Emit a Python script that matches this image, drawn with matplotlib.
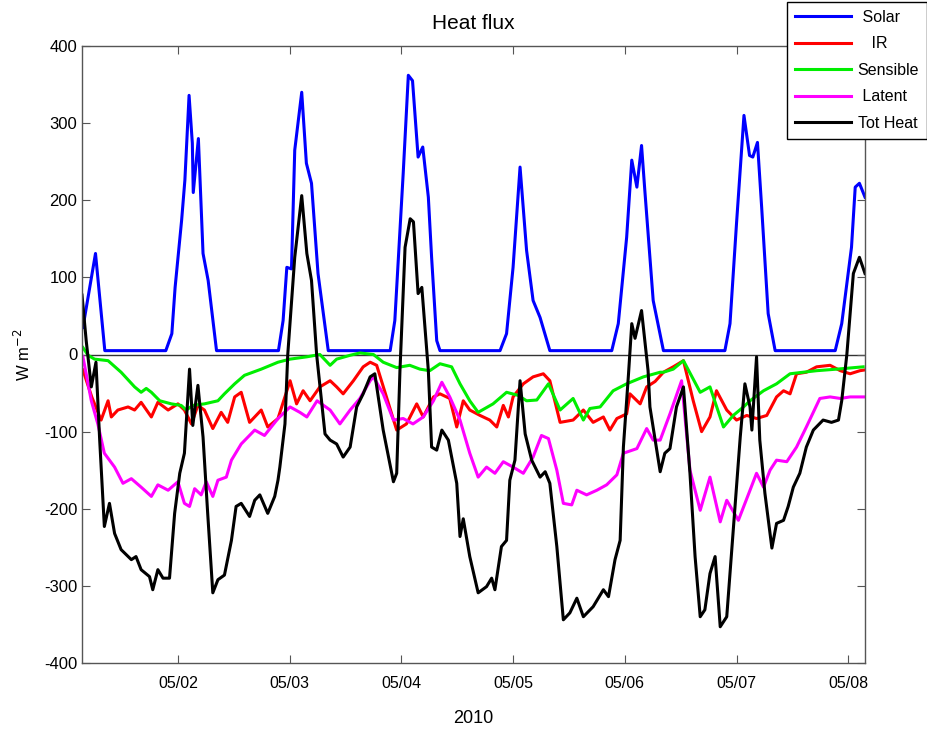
import matplotlib
matplotlib.use("Agg")
import matplotlib.pyplot as plt

plt.rcParams['font.family'] = ['Liberation Sans', 'DejaVu Sans']
plt.rcParams['axes.unicode_minus'] = False

# time in hours since 2010-05-01 00:00
solar_t = [3.6, 6.3, 8.3, 21.4, 22.7, 23.4, 24.8, 25.5, 26.4, 27.1, 27.3, 28.4, 29.4, 30.5, 32.3,
           45.6, 46.6, 47.4, 48.4, 49.1, 50.6, 51.6, 52.7, 54.1, 56.3,
           69.6, 70.6, 72.4, 73.5, 74.4, 75.6, 76.6, 77.8, 78.5, 79.6, 80.3,
           93.2, 94.6, 96.0, 97.5, 98.9, 100.3, 101.8, 103.9,
           117.2, 118.6, 120.4, 121.5, 122.6, 123.6, 124.3, 126.1, 128.3,
           141.5, 142.6, 144.0, 145.6, 146.8, 147.5, 148.5, 149.4, 150.8, 152.3,
           165.2, 166.6, 168.7, 169.5, 170.4, 171.6]
solar_v = [35, 131, 5, 5, 27, 87, 174, 226, 336, 274, 210, 280, 131, 96, 5,
           5, 44, 113, 111, 265, 340, 248, 222, 105, 5,
           5, 44, 235, 362, 355, 256, 269, 204, 126, 18, 5,
           5, 27, 113, 243, 135, 70, 48, 5,
           5, 40, 152, 252, 217, 271, 213, 70, 5,
           5, 40, 170, 310, 258, 256, 275, 191, 53, 5,
           5, 40, 139, 217, 222, 204]

ir_t = [3.6, 5.5, 7.5, 9.0, 9.7, 11.1, 13.3, 14.7, 16.1, 18.3, 19.7, 21.9, 24.0, 25.4, 26.9, 28.3,
        29.7, 31.5, 33.3, 34.7, 36.2, 37.6, 39.4, 41.9, 43.3, 45.5,
        48.1, 49.5, 50.9, 52.4, 54.5, 56.7, 58.1, 59.5, 61.7, 63.8, 65.3, 66.7, 68.8, 71.0,
        73.1, 75.3, 76.7, 78.9, 80.3, 82.4, 83.9, 85.3,
        86.7, 88.9, 91.0, 92.5, 93.9, 95.0, 96.0, 98.2, 100.3, 102.5, 103.9, 106.1, 108.9,
        111.1, 113.2, 115.4, 116.8, 118.3, 120.4, 121.1, 123.3, 124.7, 126.5,
        128.3, 130.4, 132.6, 134.7, 136.5, 138.3, 139.7, 141.9, 144.0, 146.2, 148.3, 150.5,
        152.6, 154.1, 155.5, 156.9, 159.0, 161.2, 164.1, 166.3, 168.4, 170.5, 171.6]
ir_v = [-20, -55, -85, -60, -81, -72, -68, -72, -62, -81, -62, -72, -64, -72, -90, -66,
        -72, -96, -75, -88, -55, -49, -88, -72, -94, -83,
        -34, -64, -47, -60, -42, -34, -42, -51, -34, -16, -10, -14, -55, -98,
        -90, -64, -81, -55, -51, -57, -94, -60,
        -72, -79, -85, -94, -66, -81, -55, -38, -29, -25, -34, -88, -85,
        -72, -88, -81, -98, -83, -77, -51, -64, -42, -35,
        -23, -16, -8, -60, -100, -81, -47, -72, -85, -79, -83, -79,
        -55, -47, -51, -25, -23, -16, -14, -21, -25, -21, -20]

sens_t = [3.6, 4.7, 6.1, 9.0, 11.8, 14.7, 16.1, 17.2, 18.3, 20.1, 22.6, 24.7, 25.8, 27.2, 29.7,
          32.6, 34.0, 36.2, 38.3, 41.9, 45.5,
          48.1, 51.7, 54.5, 56.7, 58.1, 61.0, 63.1, 66.0, 68.1, 71.0, 73.8, 76.0, 78.1, 80.3,
          82.8, 84.6, 86.7,
          88.5, 91.7, 94.6, 97.1, 98.9, 101.1, 103.6, 106.1, 108.9, 111.1, 112.5, 114.7, 117.5,
          120.4, 124.0, 127.6,
          128.3, 130.4, 132.6, 136.2, 138.3, 141.2, 143.3, 145.5, 146.9, 149.8, 152.6, 155.5,
          158.3, 161.2, 165.5, 171.2]
sens_v = [9, -1, -6, -8, -23, -42, -49, -44, -49, -60, -64, -66, -72, -66, -64,
          -60, -51, -38, -27, -19, -10,
          -6, -3, 0, -14, -6, -1, 2, 0, -10, -17, -14, -19, -21, -12,
          -16, -38, -60,
          -75, -64, -49, -53, -60, -59, -38, -72, -57, -85, -70, -68, -47,
          -38, -29, -23,
          -23, -19, -8, -49, -42, -94, -79, -68, -60, -47, -38, -25,
          -23, -21, -19, -16]

lat_t = [3.6, 5.4, 6.8, 8.2, 10.4, 12.2, 14.0, 16.1, 18.3, 19.7, 21.9, 24.0, 25.4, 26.5, 27.6,
         29.0, 30.1, 31.5, 32.6, 34.4, 35.5, 37.6, 40.5, 42.6, 45.5,
         48.1, 50.2, 51.7, 53.9, 56.7, 58.8, 61.0, 63.1, 65.3, 66.0, 68.1, 70.3, 72.4, 74.5,
         76.7, 78.9, 80.7, 82.4, 84.6, 86.7,
         88.5, 90.3, 92.1, 93.9, 96.0, 98.2, 100.3, 102.1, 103.6, 105.4, 106.8, 108.6, 109.7,
         111.8, 114.0, 116.1, 118.3, 119.7, 122.6, 124.7, 126.1, 127.6,
         129.7, 132.2, 134.0, 136.2, 138.3, 140.5, 141.9, 144.4, 146.9, 148.3, 149.8, 151.2,
         152.6, 154.8, 156.9, 159.0, 161.9, 164.1, 166.3, 168.4, 171.6]
lat_v = [-3, -60, -90, -128, -146, -167, -161, -172, -184, -169, -176, -165, -193, -197, -174,
         -182, -165, -184, -163, -159, -137, -116, -98, -105, -83,
         -68, -75, -81, -60, -72, -90, -72, -57, -34, -29, -51, -85, -83, -90,
         -81, -60, -36, -55, -85, -128,
         -159, -146, -154, -139, -146, -154, -133, -105, -109, -150, -193, -195, -176,
         -182, -176, -169, -156, -128, -122, -96, -111, -111,
         -77, -34, -150, -202, -159, -217, -189, -215, -176, -154, -172, -150,
         -137, -139, -120, -94, -57, -55, -57, -55, -55]

tot_t = [3.4, 4.3, 5.4, 6.4, 7.2, 8.2, 9.3, 10.4, 11.8, 14.0, 15.0, 16.1, 17.9, 18.6, 19.7,
         20.8, 22.2, 23.3, 24.4, 25.4, 26.5, 27.2, 28.3, 29.4, 30.4, 31.5, 32.6, 34.0, 35.5,
         36.5, 37.6, 39.4, 40.5, 41.6, 43.3, 44.8, 45.5, 45.9, 47.0,
         47.6, 49.1, 50.6, 51.7, 52.7, 53.8, 55.6, 56.7, 58.1, 59.5, 61.0, 62.4, 63.8, 65.3,
         66.3, 68.1, 70.3, 71.0, 71.7, 72.8, 73.9, 74.6, 75.6, 76.4, 77.8, 78.5, 79.6, 80.7,
         82.1, 83.9, 84.6, 85.3, 86.7, 88.5, 90.3, 91.4, 92.1, 93.5, 94.6, 95.3, 96.4, 97.5,
         98.6, 100.0, 101.8, 102.9, 103.9, 105.4, 106.8, 108.2, 109.7, 111.1, 113.2, 115.4,
         116.5, 117.9, 119.0, 119.7, 120.8, 121.5, 122.2, 123.6, 125.0, 125.4, 127.6, 128.6,
         129.7, 131.1, 132.6, 134.0, 135.1, 136.2, 137.2, 138.3, 139.4, 140.5, 141.9, 143.3,
         144.8, 145.8, 146.9, 147.3, 148.3, 149.0, 150.1, 151.6, 152.6, 154.1, 155.1, 156.2,
         157.6, 159.0, 160.5, 162.6, 164.4, 165.9, 166.6, 167.7, 169.1, 170.4, 171.6]
tot_v = [77, 18, -42, -10, -111, -223, -193, -232, -253, -266, -262, -279, -288, -305, -279,
         -290, -290, -206, -154, -128, -19, -92, -40, -107, -206, -309, -292, -286, -241,
         -197, -193, -210, -189, -182, -206, -184, -163, -146, -90,
         0, 126, 206, 131, 96, 0, -103, -111, -116, -133, -120, -68, -51, -29,
         -25, -98, -165, -154, -21, 139, 176, 172, 79, 87, -21, -120, -124, -98,
         -111, -167, -236, -213, -262, -309, -301, -290, -305, -249, -241, -163, -137, -34,
         -103, -137, -159, -152, -167, -249, -344, -335, -316, -340, -327, -305,
         -314, -266, -241, -120, -25, 40, 21, 57, -21, -68, -152, -128,
         -122, -68, -42, -154, -262, -340, -331, -284, -262, -353, -340, -228,
         -107, -38, -68, -98, -3, -111, -180, -251, -219, -215, -197, -172,
         -154, -120, -98, -85, -88, -85, -60, 0, 105, 126, 105]

tick_hours = [24, 48, 72, 96, 120, 144, 168]
tick_labels = ['05/02', '05/03', '05/04', '05/05', '05/06', '05/07', '05/08']
y_ticks = [-400, -300, -200, -100, 0, 100, 200, 300, 400]
legend_labels = [' Solar', '   IR', 'Sensible', ' Latent', 'Tot Heat']

fig = plt.figure(figsize=(9.28, 7.30), dpi=100)
ax = fig.add_axes([82/928, 1-663/730, (865-82)/928, (663-46)/730])

lw = 2.2
ax.axhline(0, color='#333333', lw=1.0, zorder=1)
ax.plot(solar_t, solar_v, color='#0000ff', lw=lw, label=legend_labels[0])
ax.plot(ir_t, ir_v, color='#ff0000', lw=lw, label=legend_labels[1])
ax.plot(sens_t, sens_v, color='#00ee00', lw=lw, label=legend_labels[2])
ax.plot(lat_t, lat_v, color='#ff00ff', lw=lw, label=legend_labels[3])
ax.plot(tot_t, tot_v, color='#000000', lw=lw, label=legend_labels[4])

ax.set_xlim(3.4, 171.6)
ax.set_ylim(-400, 400)
ax.set_xticks(tick_hours)
ax.set_xticklabels(tick_labels)
ax.set_yticks(y_ticks)
ax.tick_params(direction='in', top=True, right=True, length=6, width=0.8,
               color='#555555')
ax.tick_params(axis='y', labelsize=12)
ax.tick_params(axis='x', labelsize=11.5, pad=9)
for s in ax.spines.values():
    s.set_color('#555555')
    s.set_linewidth(1.0)

ax.set_title('Heat flux', fontsize=15, pad=12)
ax.set_xlabel('2010', fontsize=13, labelpad=14)
ax.set_ylabel('W m$^{-2}$', fontsize=12, labelpad=8)

leg = fig.legend(loc='upper right', bbox_to_anchor=(927/928, 728/730), fontsize=11.5,
                 frameon=True, fancybox=False, shadow=False, framealpha=1,
                 edgecolor='black', handlelength=3.5, labelspacing=0.72,
                 borderpad=0.5, handletextpad=0.4, borderaxespad=0)
leg.get_frame().set_linewidth(1.0)

fig.savefig('out.png', dpi=100)
